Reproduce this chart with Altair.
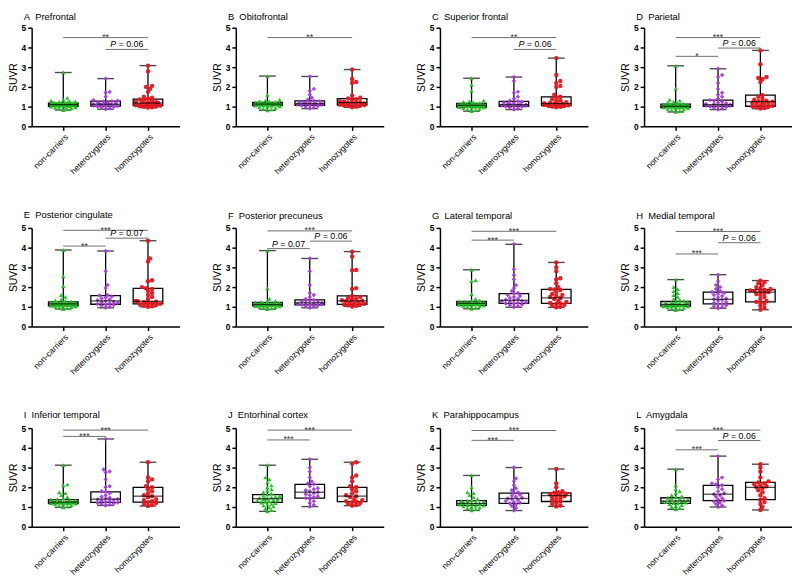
import altair as alt
import pandas as pd

FONT = "Liberation Sans"
GROUPS = ["non-carriers", "heterozygotes", "homozygotes"]
COLORS = ["#1fbf1f", "#a53adb", "#e5161c"]
SHAPES = ["triangle-up", "diamond", "circle"]
Y_TICKS = [0, 1, 2, 3, 4, 5]

# box stats per group: (min, q1, median, q3, max)
# ---------------- A Prefrontal
A_TITLE = "A\u00a0 Prefrontal"
A_BOX = [(0.83, 1.02, 1.10, 1.18, 2.73), (0.87, 1.03, 1.12, 1.28, 2.42), (0.95, 1.05, 1.18, 1.38, 3.08)]
A_NON = [0.83, 0.86, 0.9, 0.93, 0.95, 0.97, 0.99, 1.0, 1.01, 1.02, 1.03, 1.04, 1.05, 1.05, 1.06, 1.07, 1.08, 1.08, 1.09, 1.1,
         1.1, 1.11, 1.12, 1.12, 1.13, 1.14, 1.15, 1.15, 1.16, 1.17, 1.18, 1.19, 1.2, 1.22, 1.24, 1.26, 1.28, 1.3, 1.35, 1.44, 2.73]
A_HET = [0.87, 0.92, 0.96, 0.99, 1.01, 1.03, 1.04, 1.06, 1.08, 1.1, 1.11, 1.12, 1.13, 1.15, 1.17, 1.19, 1.22, 1.25, 1.28, 1.3,
         1.33, 1.5, 1.7, 1.75, 2.42]
A_HOM = [0.95, 0.97, 0.99, 1.01, 1.03, 1.05, 1.07, 1.09, 1.11, 1.13, 1.15, 1.17, 1.18, 1.2, 1.22, 1.25, 1.28, 1.32, 1.36, 1.4,
         1.45, 1.5, 1.75, 1.9, 2.0, 2.05, 2.8, 3.08]
A_SIG = [("non-carriers", "homozygotes", 4.5, "**"), ("heterozygotes", "homozygotes", 3.9, "P = 0.06")]

# ---------------- B Obitofrontal
B_TITLE = "B\u00a0 Obitofrontal"
B_BOX = [(0.81, 1.05, 1.13, 1.22, 2.55), (0.90, 1.07, 1.15, 1.29, 2.53), (0.97, 1.08, 1.20, 1.41, 2.88)]
B_NON = [0.81, 0.86, 0.9, 0.94, 0.97, 1.0, 1.02, 1.04, 1.05, 1.06, 1.07, 1.08, 1.09, 1.1, 1.11, 1.12, 1.13, 1.13, 1.14, 1.15,
         1.16, 1.17, 1.18, 1.19, 1.2, 1.21, 1.22, 1.24, 1.26, 1.28, 1.3, 1.35, 1.6, 2.55]
B_HET = [0.9, 0.95, 1.0, 1.03, 1.05, 1.07, 1.09, 1.11, 1.13, 1.14, 1.15, 1.17, 1.19, 1.21, 1.24, 1.27, 1.3, 1.35, 1.45, 1.6,
         1.8, 1.9, 2.53]
B_HOM = [0.97, 1.0, 1.03, 1.05, 1.07, 1.08, 1.1, 1.12, 1.14, 1.16, 1.18, 1.2, 1.22, 1.25, 1.28, 1.32, 1.38, 1.42, 1.45, 1.55,
         2.2, 2.25, 2.4, 2.88]
B_SIG = [("non-carriers", "homozygotes", 4.5, "**")]

# ---------------- C Superior frontal
C_TITLE = "C\u00a0 Superior frontal"
C_BOX = [(0.77, 0.98, 1.07, 1.17, 2.44), (0.85, 1.02, 1.10, 1.27, 2.50), (0.97, 1.05, 1.15, 1.50, 3.46)]
C_NON = [0.77, 0.82, 0.86, 0.9, 0.93, 0.95, 0.97, 0.98, 0.99, 1.0, 1.01, 1.02, 1.03, 1.04, 1.05, 1.06, 1.07, 1.08, 1.09, 1.1,
         1.11, 1.12, 1.13, 1.14, 1.15, 1.16, 1.17, 1.19, 1.21, 1.24, 1.27, 1.3, 1.8, 2.1, 2.44]
C_HET = [0.85, 0.9, 0.95, 0.99, 1.01, 1.02, 1.04, 1.06, 1.08, 1.1, 1.11, 1.13, 1.15, 1.18, 1.21, 1.24, 1.27, 1.3, 1.4, 1.5,
         1.7, 1.75, 2.3, 2.5]
C_HOM = [0.97, 0.99, 1.01, 1.03, 1.05, 1.07, 1.09, 1.1, 1.12, 1.14, 1.15, 1.17, 1.2, 1.23, 1.27, 1.32, 1.38, 1.45, 1.5, 1.6,
         2.0, 2.05, 2.2, 2.3, 2.6, 3.46]
C_SIG = [("non-carriers", "homozygotes", 4.5, "**"), ("heterozygotes", "homozygotes", 3.9, "P = 0.06")]

# ---------------- D Parietal
D_TITLE = "D\u00a0 Parietal"
D_BOX = [(0.73, 0.95, 1.02, 1.13, 3.07), (0.85, 1.02, 1.10, 1.33, 2.92), (0.90, 1.02, 1.25, 1.58, 3.85)]
D_NON = [0.73, 0.78, 0.82, 0.86, 0.89, 0.92, 0.94, 0.95, 0.96, 0.97, 0.98, 0.99, 1.0, 1.01, 1.02, 1.02, 1.03, 1.04, 1.05, 1.06,
         1.07, 1.08, 1.09, 1.1, 1.11, 1.12, 1.13, 1.15, 1.17, 1.2, 1.24, 1.3, 1.35, 1.91, 3.07]
D_HET = [0.85, 0.9, 0.94, 0.98, 1.0, 1.02, 1.04, 1.06, 1.08, 1.1, 1.12, 1.14, 1.17, 1.2, 1.25, 1.3, 1.33, 1.4, 1.5, 1.6,
         1.7, 1.9, 2.2, 2.5, 2.6, 2.92]
D_HOM = [0.9, 0.93, 0.96, 0.99, 1.02, 1.04, 1.07, 1.1, 1.13, 1.16, 1.2, 1.23, 1.25, 1.28, 1.3, 1.35, 1.4, 1.5, 1.58, 2.25,
         2.4, 2.45, 2.5, 3.15, 3.85]
D_SIG = [("non-carriers", "homozygotes", 4.5, "***"), ("heterozygotes", "homozygotes", 3.97, "P = 0.06"),
         ("non-carriers", "heterozygotes", 3.55, "*")]

# ---------------- E Posterior cingulate
E_TITLE = "E\u00a0 Posterior cingulate"
E_BOX = [(0.89, 1.05, 1.15, 1.25, 3.88), (0.95, 1.13, 1.30, 1.57, 3.83), (1.00, 1.15, 1.28, 1.94, 4.35)]
E_NON = [0.89, 0.93, 0.96, 0.99, 1.01, 1.03, 1.05, 1.06, 1.07, 1.08, 1.09, 1.1, 1.11, 1.12, 1.13, 1.14, 1.15, 1.15, 1.16, 1.17,
         1.18, 1.19, 1.2, 1.21, 1.22, 1.24, 1.25, 1.27, 1.3, 1.33, 1.38, 1.5, 1.6, 2.05, 2.55, 3.88]
E_HET = [0.95, 1.0, 1.05, 1.09, 1.12, 1.14, 1.17, 1.2, 1.23, 1.26, 1.3, 1.33, 1.37, 1.42, 1.47, 1.52, 1.57, 1.6, 1.95, 2.1,
         2.8, 3.83]
E_HOM = [1.0, 1.03, 1.06, 1.09, 1.12, 1.15, 1.18, 1.2, 1.23, 1.26, 1.28, 1.3, 1.4, 1.5, 1.6, 1.7, 1.8, 1.9, 1.94, 2.0,
         2.3, 2.35, 3.3, 3.45, 4.35]
E_SIG = [("non-carriers", "homozygotes", 4.88, "***"), ("heterozygotes", "homozygotes", 4.48, "P = 0.07"),
         ("non-carriers", "heterozygotes", 4.08, "**")]

# ---------------- F Posterior precuneus
F_TITLE = "F\u00a0 Posterior precuneus"
F_BOX = [(0.88, 1.05, 1.12, 1.22, 3.85), (0.95, 1.10, 1.20, 1.35, 3.45), (1.02, 1.12, 1.30, 1.55, 3.80)]
F_NON = [0.88, 0.92, 0.95, 0.98, 1.0, 1.02, 1.04, 1.05, 1.06, 1.07, 1.08, 1.09, 1.1, 1.11, 1.12, 1.12, 1.13, 1.14, 1.15, 1.16,
         1.17, 1.18, 1.19, 1.2, 1.22, 1.24, 1.26, 1.3, 1.4, 1.93, 3.85]
F_HET = [0.95, 1.0, 1.04, 1.07, 1.1, 1.12, 1.14, 1.16, 1.18, 1.2, 1.22, 1.25, 1.28, 1.31, 1.35, 1.4, 1.5, 1.6, 1.7, 2.1,
         2.8, 3.45]
F_HOM = [1.02, 1.05, 1.08, 1.1, 1.12, 1.15, 1.18, 1.21, 1.25, 1.28, 1.3, 1.33, 1.37, 1.41, 1.45, 1.5, 1.55, 1.9, 1.95, 2.85,
         2.87, 3.55, 3.8]
F_SIG = [("non-carriers", "homozygotes", 4.85, "***"), ("heterozygotes", "homozygotes", 4.33, "P = 0.06"),
         ("non-carriers", "heterozygotes", 3.95, "P = 0.07")]

# ---------------- G Lateral temporal
G_TITLE = "G\u00a0 Lateral temporal"
G_BOX = [(0.90, 1.08, 1.18, 1.28, 2.88), (0.98, 1.17, 1.33, 1.67, 4.17), (0.97, 1.17, 1.45, 1.88, 3.25)]
G_NON = [0.9, 0.95, 0.99, 1.02, 1.05, 1.07, 1.08, 1.1, 1.11, 1.12, 1.13, 1.14, 1.15, 1.16, 1.17, 1.18, 1.18, 1.19, 1.2, 1.21,
         1.22, 1.23, 1.24, 1.25, 1.26, 1.28, 1.3, 1.33, 1.4, 1.65, 2.3, 2.35, 2.88]
G_HET = [0.98, 1.03, 1.08, 1.12, 1.15, 1.17, 1.2, 1.22, 1.25, 1.28, 1.3, 1.33, 1.36, 1.4, 1.45, 1.5, 1.55, 1.6, 1.67, 1.7,
         1.8, 1.95, 2.1, 2.4, 2.6, 2.9, 4.17]
G_HOM = [0.97, 1.0, 1.05, 1.1, 1.15, 1.17, 1.2, 1.25, 1.3, 1.4, 1.45, 1.5, 1.55, 1.6, 1.65, 1.75, 1.85, 1.88, 1.9, 2.0,
         2.2, 2.4, 2.45, 2.8, 3.0, 3.25]
G_SIG = [("non-carriers", "homozygotes", 4.83, "***"), ("non-carriers", "heterozygotes", 4.38, "***")]

# ---------------- H Medial temporal
H_TITLE = "H\u00a0 Medial temporal"
H_BOX = [(0.83, 1.03, 1.12, 1.27, 2.38), (0.93, 1.15, 1.38, 1.75, 2.63), (0.85, 1.25, 1.75, 1.87, 2.33)]
H_NON = [0.83, 0.88, 0.92, 0.95, 0.98, 1.0, 1.02, 1.03, 1.04, 1.06, 1.07, 1.08, 1.09, 1.1, 1.11, 1.12, 1.13, 1.14, 1.16, 1.18,
         1.2, 1.22, 1.24, 1.27, 1.3, 1.35, 1.4, 1.5, 1.6, 1.7, 1.8, 1.9, 2.0, 2.38]
H_HET = [0.93, 0.98, 1.03, 1.08, 1.12, 1.15, 1.2, 1.25, 1.3, 1.35, 1.38, 1.42, 1.48, 1.55, 1.6, 1.65, 1.7, 1.75, 1.8, 1.9,
         2.0, 2.1, 2.3, 2.63]
H_HOM = [0.85, 0.95, 1.05, 1.15, 1.22, 1.25, 1.3, 1.4, 1.5, 1.6, 1.65, 1.7, 1.75, 1.78, 1.8, 1.83, 1.87, 1.9, 1.95, 2.0,
         2.1, 2.2, 2.25, 2.33]
H_SIG = [("non-carriers", "homozygotes", 4.82, "***"), ("heterozygotes", "homozygotes", 4.25, "P = 0.06"),
         ("non-carriers", "heterozygotes", 3.68, "***")]

# ---------------- I Inferior temporal
I_TITLE = "I\u00a0 Inferior temporal"
I_BOX = [(0.98, 1.17, 1.25, 1.38, 3.12), (1.08, 1.23, 1.40, 1.77, 4.45), (1.05, 1.25, 1.55, 2.00, 3.27)]
I_NON = [0.98, 1.02, 1.06, 1.1, 1.13, 1.15, 1.17, 1.18, 1.19, 1.2, 1.21, 1.22, 1.23, 1.24, 1.25, 1.25, 1.26, 1.27, 1.28, 1.29,
         1.3, 1.32, 1.34, 1.36, 1.38, 1.4, 1.45, 1.5, 1.6, 1.7, 1.75, 2.1, 2.15, 3.12]
I_HET = [1.08, 1.12, 1.15, 1.18, 1.2, 1.23, 1.26, 1.29, 1.32, 1.35, 1.38, 1.4, 1.43, 1.47, 1.52, 1.6, 1.7, 1.77, 1.8, 2.0,
         2.05, 2.4, 2.75, 2.8, 2.9, 4.45]
I_HOM = [1.05, 1.1, 1.15, 1.2, 1.25, 1.3, 1.35, 1.4, 1.5, 1.55, 1.6, 1.7, 1.8, 1.9, 2.0, 2.05, 2.3, 2.4, 2.5, 3.27]
I_SIG = [("non-carriers", "homozygotes", 4.9, "***"), ("non-carriers", "heterozygotes", 4.58, "***")]

# ---------------- J Entorhinal cortex
J_TITLE = "J\u00a0 Entorhinal cortex"
J_BOX = [(0.78, 1.23, 1.42, 1.63, 3.12), (1.02, 1.45, 1.75, 2.15, 3.42), (1.07, 1.27, 1.55, 2.00, 3.27)]
J_NON = [0.78, 0.85, 0.92, 0.98, 1.03, 1.08, 1.12, 1.16, 1.2, 1.23, 1.26, 1.29, 1.32, 1.35, 1.38, 1.4, 1.42, 1.44, 1.46, 1.49,
         1.52, 1.55, 1.58, 1.63, 1.68, 1.75, 1.82, 1.9, 2.0, 2.1, 2.25, 2.4, 2.5, 3.12]
J_HET = [1.02, 1.1, 1.2, 1.3, 1.4, 1.45, 1.5, 1.55, 1.6, 1.65, 1.7, 1.75, 1.8, 1.85, 1.9, 1.95, 2.05, 2.15, 2.2, 2.3,
         2.5, 2.8, 3.0, 3.42]
J_HOM = [1.07, 1.1, 1.15, 1.2, 1.25, 1.27, 1.3, 1.35, 1.4, 1.5, 1.55, 1.6, 1.7, 1.8, 1.9, 2.0, 2.05, 2.3, 2.5, 2.6,
         3.2, 3.27]
J_SIG = [("non-carriers", "homozygotes", 4.9, "***"), ("non-carriers", "heterozygotes", 4.4, "***")]

# ---------------- K Parahippocampus
K_TITLE = "K\u00a0 Parahippocampus"
K_BOX = [(0.83, 1.08, 1.18, 1.32, 2.60), (0.82, 1.18, 1.43, 1.70, 3.00), (1.03, 1.28, 1.58, 1.72, 2.93)]
K_NON = [0.83, 0.88, 0.93, 0.97, 1.0, 1.03, 1.06, 1.08, 1.1, 1.12, 1.14, 1.16, 1.17, 1.18, 1.19, 1.2, 1.22, 1.24, 1.26, 1.28,
         1.3, 1.32, 1.35, 1.4, 1.5, 1.6, 1.7, 1.75, 2.0, 2.6]
K_HET = [0.82, 0.95, 1.05, 1.12, 1.18, 1.22, 1.26, 1.3, 1.35, 1.4, 1.43, 1.47, 1.52, 1.57, 1.62, 1.7, 1.75, 1.85, 1.95, 2.1,
         2.3, 2.45, 3.0]
K_HOM = [1.03, 1.08, 1.15, 1.22, 1.28, 1.33, 1.4, 1.45, 1.5, 1.55, 1.58, 1.62, 1.65, 1.68, 1.72, 1.75, 1.8, 2.0, 2.2, 2.93]
K_SIG = [("non-carriers", "homozygotes", 4.88, "***"), ("non-carriers", "heterozygotes", 4.38, "***")]

# ---------------- L Amygdala
L_TITLE = "L\u00a0 Amygdala"
L_BOX = [(0.88, 1.18, 1.30, 1.47, 2.92), (1.00, 1.32, 1.65, 2.10, 3.58), (0.85, 1.37, 2.00, 2.25, 3.17)]
L_NON = [0.88, 0.95, 1.0, 1.05, 1.1, 1.14, 1.18, 1.2, 1.22, 1.25, 1.27, 1.29, 1.3, 1.32, 1.34, 1.37, 1.4, 1.43, 1.47, 1.5,
         1.55, 1.6, 1.7, 1.8, 1.9, 2.1, 2.92]
L_HET = [1.0, 1.08, 1.15, 1.22, 1.28, 1.32, 1.38, 1.45, 1.52, 1.6, 1.65, 1.7, 1.8, 1.9, 2.0, 2.1, 2.15, 2.2, 2.4, 2.5, 3.58]
L_HOM = [0.85, 1.0, 1.15, 1.25, 1.37, 1.45, 1.6, 1.75, 1.85, 1.95, 2.0, 2.05, 2.1, 2.15, 2.2, 2.25, 2.3, 2.5, 2.8, 3.0, 3.17]
L_SIG = [("non-carriers", "homozygotes", 4.9, "***"), ("heterozygotes", "homozygotes", 4.37, "P = 0.06"),
         ("non-carriers", "heterozygotes", 3.9, "***")]

PANELS = [
    (A_TITLE, A_BOX, [A_NON, A_HET, A_HOM], A_SIG),
    (B_TITLE, B_BOX, [B_NON, B_HET, B_HOM], B_SIG),
    (C_TITLE, C_BOX, [C_NON, C_HET, C_HOM], C_SIG),
    (D_TITLE, D_BOX, [D_NON, D_HET, D_HOM], D_SIG),
    (E_TITLE, E_BOX, [E_NON, E_HET, E_HOM], E_SIG),
    (F_TITLE, F_BOX, [F_NON, F_HET, F_HOM], F_SIG),
    (G_TITLE, G_BOX, [G_NON, G_HET, G_HOM], G_SIG),
    (H_TITLE, H_BOX, [H_NON, H_HET, H_HOM], H_SIG),
    (I_TITLE, I_BOX, [I_NON, I_HET, I_HOM], I_SIG),
    (J_TITLE, J_BOX, [J_NON, J_HET, J_HOM], J_SIG),
    (K_TITLE, K_BOX, [K_NON, K_HET, K_HOM], K_SIG),
    (L_TITLE, L_BOX, [L_NON, L_HET, L_HOM], L_SIG),
]

# ---------------- layout / style
PW, PH = 150, 100
STEP_PX = 46.0          # pixels per category step on the x scale
PX_PER_UNIT = PH / 5.0  # pixels per SUVR unit
X_DOMAIN = [-0.63, 2.63]


def swarm(vals, d=3.3, stepx=2.2, maxoff=15.0):
    """Deterministic beeswarm-like horizontal spread (pixels)."""
    order = sorted(range(len(vals)), key=lambda i: vals[i])
    cands = [0.0]
    k = 1
    while k * stepx <= maxoff:
        cands += [k * stepx, -k * stepx]
        k += 1
    placed, offs = [], [0.0] * len(vals)
    for n, i in enumerate(order):
        y = vals[i] * PX_PER_UNIT
        chosen = None
        for c in cands:
            if all((c - px) ** 2 + (y - py) ** 2 >= d * d for px, py in placed):
                chosen = c
                break
        if chosen is None:
            chosen = cands[(n * 7) % len(cands)]
        placed.append((chosen, y))
        offs[i] = chosen
    return offs


XS = alt.Scale(domain=X_DOMAIN, nice=False, zero=False)
YS = alt.Scale(domain=[0, 5], nice=False, zero=True)
XA = alt.Axis(values=[0, 1, 2], title=None, grid=False,
              labelExpr="['non-carriers','heterozygotes','homozygotes'][datum.value]",
              labelAngle=-45, labelAlign="right", labelBaseline="top", labelFontSize=8.5,
              labelFont=FONT, labelColor="black", labelPadding=2, labelOverlap=False, labelFlush=False,
              domainColor="black", domainWidth=1.5, tickColor="black", tickWidth=1.5, tickSize=4)
YA = alt.Axis(values=Y_TICKS, title="SUVR", grid=False, format="d",
              labelFontSize=8.5, labelFont=FONT, labelColor="black", labelPadding=2, labelFontWeight="bold",
              titleFont=FONT, titleFontSize=10.5, titleFontWeight="normal", titleColor="black", titlePadding=3,
              domainColor="black", domainWidth=1.5, tickColor="black", tickWidth=1.5, tickSize=4)


def X(f):
    return alt.X(f, type="quantitative", scale=XS, axis=XA)


def Y(f):
    return alt.Y(f, type="quantitative", scale=YS, axis=YA)


def panel(title, box, groups_pts, sig):
    box_df = pd.DataFrame([{"g": i, "mn": b[0], "q1": b[1], "med": b[2], "q3": b[3], "mx": b[4]}
                           for i, b in enumerate(box)])
    rows = []
    for gi, vals in enumerate(groups_pts):
        for v, o in zip(vals, swarm(vals)):
            rows.append({"grp": GROUPS[gi], "xp": gi + o / STEP_PX, "v": v})
    pts_df = pd.DataFrame(rows)
    sig_rows = []
    for a, b, lev, lab in sig:
        ia, ib = GROUPS.index(a), GROUPS.index(b)
        isp = lab.startswith("P")
        sig_rows.append({"x1": ia, "x2": ib, "mid": (ia + ib) / 2.0, "lev": lev,
                         "star": "" if isp else lab, "pp": "P" if isp else "",
                         "rest": lab[2:] if isp else ""})
    sig_df = pd.DataFrame(sig_rows)

    base = alt.Chart(box_df)
    whisk = base.mark_rule(color="black", strokeWidth=1.3).encode(x=X("g"), y=Y("mn"), y2="mx:Q")
    cap_t = base.mark_tick(orient="horizontal", size=17, thickness=1.4, color="black").encode(x=X("g"), y=Y("mx"))
    cap_b = base.mark_tick(orient="horizontal", size=17, thickness=1.4, color="black").encode(x=X("g"), y=Y("mn"))
    boxm = base.mark_bar(size=30, fill="white", stroke="black", strokeWidth=1.3).encode(
        x=X("g"), y=Y("q1"), y2="q3:Q")
    med = base.mark_tick(orient="horizontal", size=30, thickness=1.3, color="black").encode(x=X("g"), y=Y("med"))
    pts = alt.Chart(pts_df).mark_point(filled=True, size=20, opacity=0.95, strokeWidth=0).encode(
        x=X("xp"), y=Y("v"),
        color=alt.Color("grp:N", scale=alt.Scale(domain=GROUPS, range=COLORS), legend=None),
        shape=alt.Shape("grp:N", scale=alt.Scale(domain=GROUPS, range=SHAPES), legend=None),
    )
    sbase = alt.Chart(sig_df)
    lines = sbase.mark_rule(color="#6e6e6e", strokeWidth=1).encode(x=X("x1"), x2="x2:Q", y=Y("lev"))
    stars = sbase.mark_text(font=FONT, fontSize=9, color="#333333", baseline="alphabetic", dy=2.5).encode(
        x=X("mid"), y=Y("lev"), text="star:N")
    pit = sbase.mark_text(font=FONT, fontSize=9, fontStyle="italic", color="black", align="left",
                          baseline="alphabetic", dx=-16.9, dy=-2).encode(x=X("mid"), y=Y("lev"), text="pp:N")
    prest = sbase.mark_text(font=FONT, fontSize=9, color="black", align="left",
                            baseline="alphabetic", dx=-8.4, dy=-2).encode(x=X("mid"), y=Y("lev"), text="rest:N")

    return alt.layer(whisk, cap_t, cap_b, boxm, pts, med, lines, stars, pit, prest).properties(
        width=PW, height=PH,
        title=alt.TitleParams(text=title, anchor="start", frame="group", dx=-8, offset=2,
                              fontSize=9.5, fontWeight="normal", font=FONT, color="black"),
    )


charts = [panel(*p) for p in PANELS]
rows = [alt.hconcat(*charts[r * 4:(r + 1) * 4], spacing=33) for r in range(3)]
chart = alt.vconcat(*rows, spacing=34).properties(
    padding=0, background="white"
).configure_view(strokeWidth=0)

chart.save("out.html", embed_options={"renderer": "svg", "actions": False})
